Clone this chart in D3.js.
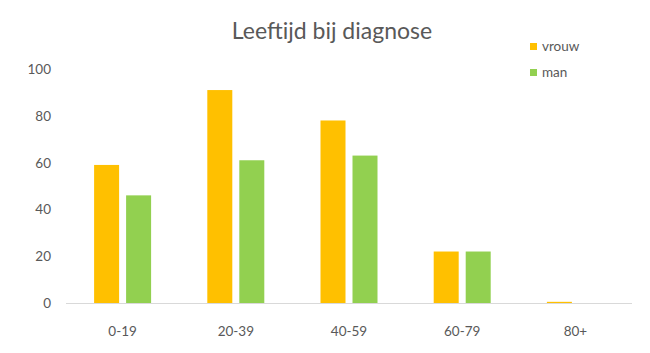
<!DOCTYPE html>
<html>
<head>
<meta charset="utf-8">
<script src="https://cdn.jsdelivr.net/npm/d3@7"></script>
<style>
  body { margin: 0; background: #fff; }
  text { font-family: Lato, "Open Sans", sans-serif; fill: #595959; }
</style>
</head>
<body>
<div id="chart"></div>
<script>
// data
let categories = ["0-19", "20-39", "40-59", "60-79", "80+"];
let seriesNames = ["vrouw", "man"];
let vrouw = [59, 91, 78, 22, 0.5];
let man = [46, 61, 63, 22, 0];
let yTicks = [0, 20, 40, 60, 80, 100];
let colors = ["#FFC000", "#92D050"];

var width = 650, height = 353;
var margin = {top: 69, right: 18, bottom: 50, left: 66};

let svg = d3.select("#chart")
    .append("svg")
    .attr("width", width)
    .attr("height", height);

let x = d3.scaleBand()
    .domain(categories)
    .range([margin.left, width - margin.right])
    .paddingInner(0)
    .paddingOuter(0);

let y = d3.scaleLinear()
    .domain([0, 100])
    .range([height - margin.bottom, margin.top]);

// rows for the grouped bars
let rows = [];
for (let i = 0; i < categories.length; i++) {
    rows.push({cat: categories[i], vals: [vrouw[i], man[i]]});
}

let barW = 25, gap = 7;

let groups = svg.append("g")
    .selectAll("g")
    .data(rows)
    .enter()
    .append("g");

groups.selectAll("rect")
    .data(d => d.vals.map((v, k) => ({cat: d.cat, v: v, k: k})))
    .enter()
    .append("rect")
    .attr("x", d => x(d.cat) + x.bandwidth() / 2 - barW - gap / 2 + d.k * (barW + gap))
    .attr("y", d => y(d.v))
    .attr("width", barW)
    .attr("height", d => y(0) - y(d.v))
    .style("fill", d => colors[d.k]);

// baseline
svg.append("line")
    .attr("x1", margin.left)
    .attr("x2", width - margin.right)
    .attr("y1", y(0) + 0.5)
    .attr("y2", y(0) + 0.5)
    .attr("stroke", "#d9d9d9")
    .attr("stroke-width", 1);

// y tick labels
svg.append("g")
    .selectAll("text")
    .data(yTicks)
    .enter()
    .append("text")
    .attr("x", 51)
    .attr("y", d => y(d) + 5)
    .attr("text-anchor", "end")
    .style("font-size", "13.5px")
    .text(d => d);

// x tick labels
svg.append("g")
    .selectAll("text")
    .data(categories)
    .enter()
    .append("text")
    .attr("x", d => x(d) + x.bandwidth() / 2)
    .attr("y", 336)
    .attr("text-anchor", "middle")
    .style("font-size", "13.5px")
    .text(d => d);

// title
svg.append("text")
    .attr("x", 332)
    .attr("y", 39)
    .attr("text-anchor", "middle")
    .style("font-size", "23px")
    .text("Leeftijd bij diagnose");

// legend
let legend = svg.append("g")
    .selectAll("g")
    .data(seriesNames)
    .enter()
    .append("g")
    .attr("transform", (d, i) => "translate(530," + (43 + i * 26) + ")");

legend.append("rect")
    .attr("width", 7)
    .attr("height", 7)
    .style("fill", (d, i) => colors[i]);

legend.append("text")
    .attr("x", 12)
    .attr("y", 8)
    .style("font-size", "13.5px")
    .text(d => d);
</script>
</body>
</html>
